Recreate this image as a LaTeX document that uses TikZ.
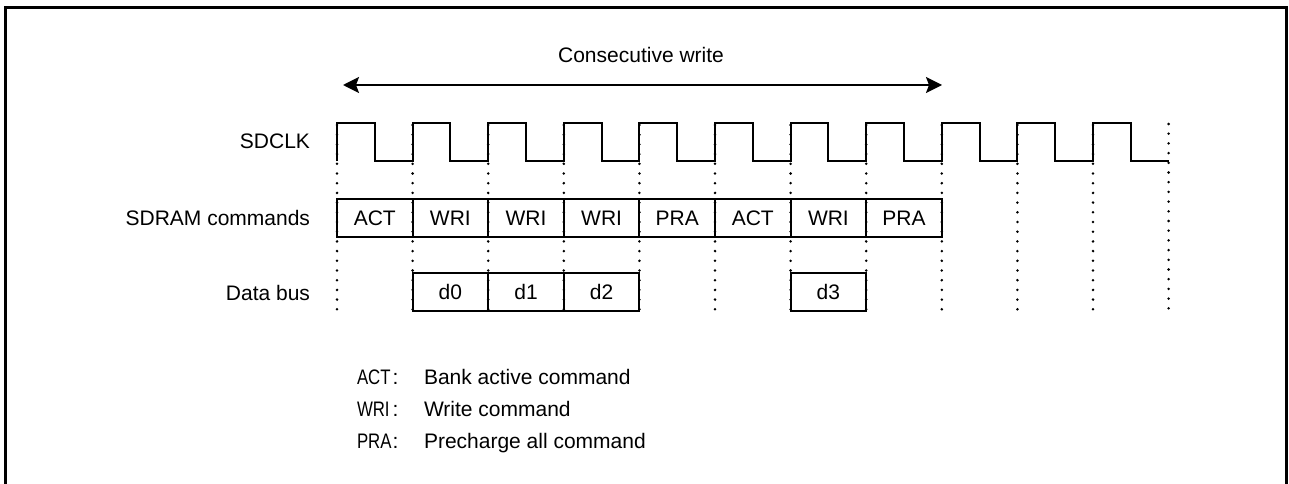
\documentclass[tikz,border=0pt]{standalone}
\usepackage{fontspec}
\setmainfont{Liberation Sans}
\newfontfamily\narrowfont[FakeStretch=0.8]{Liberation Sans}
\usetikzlibrary{arrows.meta}
\begin{document}
\begin{tikzpicture}[x=1pt,y=-1pt,
  every node/.style={font=\fontsize{21pt}{25pt}\selectfont, inner sep=0pt, outer sep=0pt},
  wave/.style={line width=2pt, line join=miter},
  frameline/.style={line width=3pt, line join=miter},
  cell/.style={draw, line width=2pt, minimum width=75.6pt, minimum height=38pt,
    anchor=north west, text height=15pt, text depth=0pt},
  dotline/.style={line width=2.8pt, line cap=round, dash pattern=on 0pt off 9.7pt},
  span/.style={line width=2pt, {Stealth[length=16pt,width=16pt,inset=3pt]}-{Stealth[length=16pt,width=16pt,inset=3pt]}},
  lbl/.style={anchor=base east},
  leg/.style={anchor=base west},
  legkey/.style={anchor=base west, font=\narrowfont\fontsize{21pt}{25pt}\selectfont}
]
\useasboundingbox (0,0) rectangle (1289,484);
% frame (open at the bottom)
\draw[frameline] (5.5,484) -- (5.5,7.5) -- (1286,7.5) -- (1286,484);

% title and span arrow
\node[anchor=base] (title) at (641,63) {Consecutive write};
\coordinate (aL) at (343,85);
\coordinate (aR) at (942,85);
\draw[span] (aL) -- (aR);

% row labels
\node[lbl] (lclk) at (310,148.5) {SDCLK};
\node[lbl] (lcmd) at (310,225) {SDRAM commands};
\node[lbl] (ldat) at (310,300) {Data bus};

% dotted guide lines
\foreach \k in {0,...,10} {
  \coordinate (t\k) at ({337+75.6*\k},125);
  \coordinate (b\k) at ({337+75.6*\k},310);
  \draw[dotline] (t\k) -- (b\k);
}
\coordinate (t11) at (1168.6,124);
\coordinate (b11) at (1168.6,316);
\draw[dotline] (t11) -- (b11);

% clock
\draw[wave] (337,161)
  \foreach \k in {0,...,10} { -- ++(0,-38) -- ++(37.8,0) -- ++(0,38) -- ++(37.8,0) };

% commands
\foreach \k/\t in {0/ACT,1/WRI,2/WRI,3/WRI,4/PRA,5/ACT,6/WRI,7/PRA} {
  \node[cell] (c\k) at ({337+75.6*\k},199) {\t};
}

% data
\foreach \k/\t in {1/d0,2/d1,3/d2,6/d3} {
  \node[cell] (d\k) at ({337+75.6*\k},273) {\t};
}

% legend
\node[legkey] (k1) at (357,384.5) {ACT};
\node[anchor=base] (s1) at (395.5,384.5) {:};
\node[leg] (v1) at (424,384.5) {Bank active command};
\node[legkey] (k2) at (357,416.5) {WRI};
\node[anchor=base] (s2) at (395.5,416.5) {:};
\node[leg] (v2) at (424,416.5) {Write command};
\node[legkey] (k3) at (357,448) {PRA};
\node[anchor=base] (s3) at (395.5,448) {:};
\node[leg] (v3) at (424,448) {Precharge all command};
\end{tikzpicture}
\end{document}
